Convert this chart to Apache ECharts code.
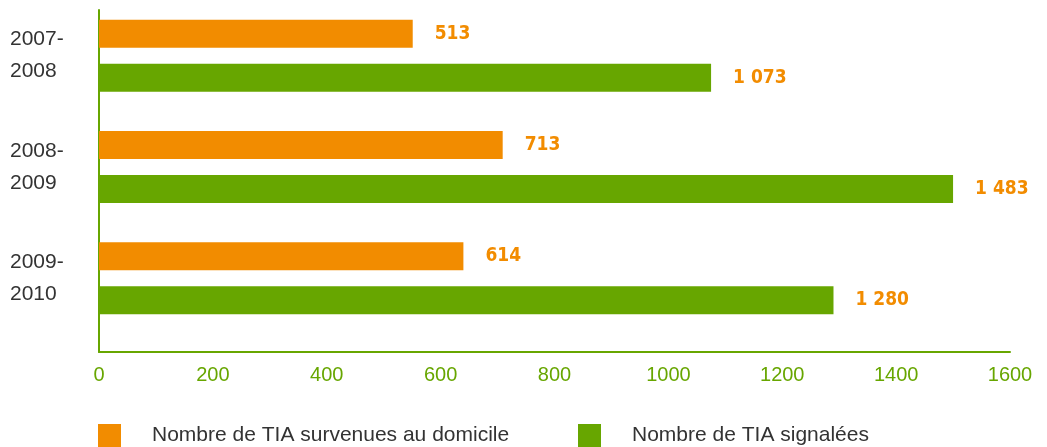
<!DOCTYPE html>
<html>
<head>
<meta charset="utf-8">
<script src="https://cdn.jsdelivr.net/npm/echarts@6/dist/echarts.min.js"></script>
<style>
  html, body { margin: 0; padding: 0; background: #fff; }
  #chart { width: 1047px; height: 447px; }
</style>
</head>
<body>
<div id="chart"></div>
<script>
const categories = ["2007-\n2008", "2008-\n2009", "2009-\n2010"];
const seriesNames = ["Nombre de TIA survenues au domicile", "Nombre de TIA signalées"];
// bar lengths as drawn in the picture
const domicile = [551, 709, 640];
const signalees = [1075, 1500, 1290];
// printed value labels
const domicileLabels = ["513", "713", "614"];
const signaleesLabels = ["1 073", "1 483", "1 280"];
const xTicks = [0, 200, 400, 600, 800, 1000, 1200, 1400, 1600];

const orange = "#f28c00";
const green = "#67a600";
const textFont = "Liberation Sans";

const chart = echarts.init(document.getElementById("chart"));

function valueLabel(texts) {
  return {
    show: true,
    position: "right",
    distance: 22,
    color: orange,
    fontFamily: "DejaVu Sans Condensed",
    fontWeight: "bold",
    fontSize: 19,
    formatter: p => texts[p.dataIndex]
  };
}

function legendFor(name, left) {
  return {
    data: [name],
    left: left,
    top: 424,
    padding: 0,
    itemWidth: 23,
    itemHeight: 23,
    icon: "rect",
    textStyle: { fontFamily: textFont, fontSize: 21, color: "#333", padding: [0, 0, 0, 26] }
  };
}

const option = {
  animation: false,
  grid: [
    { left: 99, right: 37, top: 10, height: 342 },
    { left: 99, right: 37, top: -2, height: 336 }
  ],
  legend: [legendFor(seriesNames[0], 98), legendFor(seriesNames[1], 578)],
  xAxis: [
    {
      gridIndex: 0,
      type: "value",
      min: xTicks[0],
      max: xTicks[xTicks.length - 1],
      interval: 200,
      axisLine: { show: true, lineStyle: { color: green, width: 2 } },
      axisTick: { show: false },
      splitLine: { show: false },
      axisLabel: {
        color: green,
        fontFamily: textFont,
        fontSize: 20,
        margin: 13,
        formatter: v => String(v)
      }
    },
    {
      gridIndex: 1,
      type: "value",
      min: xTicks[0],
      max: xTicks[xTicks.length - 1],
      show: false
    }
  ],
  yAxis: [
    {
      gridIndex: 0,
      type: "category",
      data: categories,
      inverse: true,
      axisLine: { show: true, lineStyle: { color: green, width: 2 } },
      axisTick: { show: false },
      axisLabel: { show: false }
    },
    {
      gridIndex: 1,
      type: "category",
      data: categories,
      inverse: true,
      axisLine: { show: false },
      axisTick: { show: false },
      axisLabel: {
        align: "left",
        margin: 89,
        color: "#333",
        fontFamily: textFont,
        fontSize: 21,
        lineHeight: 32
      }
    }
  ],
  series: [
    {
      name: seriesNames[0],
      type: "bar",
      xAxisIndex: 1,
      yAxisIndex: 1,
      data: domicile,
      barWidth: 28,
      barGap: "57%",
      itemStyle: { color: orange },
      label: valueLabel(domicileLabels)
    },
    {
      name: seriesNames[1],
      type: "bar",
      xAxisIndex: 1,
      yAxisIndex: 1,
      data: signalees,
      barWidth: 28,
      itemStyle: { color: green },
      label: valueLabel(signaleesLabels)
    }
  ]
};

chart.setOption(option);
</script>
</body>
</html>
